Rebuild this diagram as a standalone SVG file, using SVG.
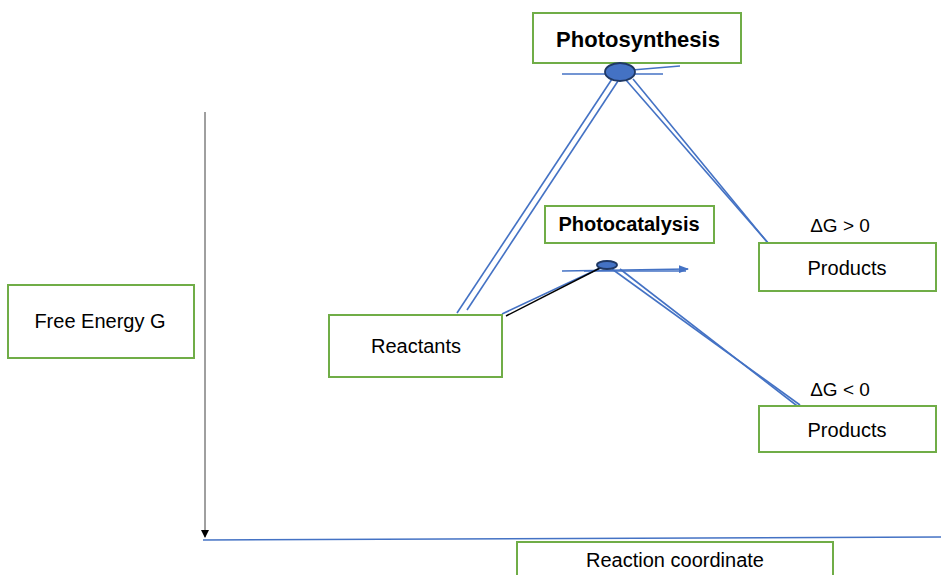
<svg xmlns="http://www.w3.org/2000/svg" width="941" height="575" viewBox="0 0 941 575">
<defs>
<style>
.box{fill:#fff;stroke:#70AD47;stroke-width:2}
.t{font-family:"Liberation Sans",Arial,sans-serif;font-size:20px;fill:#000;text-anchor:middle}
.b{font-weight:bold}
.big{font-size:22px}
.sm{font-size:19px}
.ln{stroke:#4472C4;stroke-width:1.6;fill:none}
.dot{fill:#4472C4;stroke:#1F3864;stroke-width:1.8}
</style>
<marker id="ab" markerWidth="8" markerHeight="8" refX="7" refY="4" orient="auto" markerUnits="userSpaceOnUse">
<path d="M0,0 L8,4 L0,8 Z" fill="#000"/>
</marker>
<marker id="ab2" markerWidth="10" markerHeight="8" refX="9" refY="4" orient="auto" markerUnits="userSpaceOnUse">
<path d="M0,0 L10,4 L0,8 Z" fill="#4472C4"/>
</marker>
</defs>
<rect width="941" height="575" fill="#fff"/>
<g id="connectors">
<line x1="205" y1="112" x2="205" y2="537" stroke="#404040" stroke-width="1" marker-end="url(#ab)"/>
<line x1="203" y1="540" x2="941" y2="537" class="ln" stroke-width="2"/>
<line x1="562" y1="74" x2="612" y2="74" class="ln"/>
<line x1="630" y1="74" x2="663" y2="74" class="ln"/>
<line x1="632" y1="70" x2="680" y2="66" class="ln"/>
<line x1="457" y1="313" x2="612" y2="79" class="ln"/>
<line x1="467" y1="310" x2="618" y2="81" class="ln"/>
<line x1="626" y1="80" x2="769" y2="244" class="ln"/>
<line x1="633" y1="79" x2="772" y2="248" class="ln"/>
<line x1="562" y1="271" x2="688" y2="269" class="ln" marker-end="url(#ab2)"/>
<line x1="584" y1="271" x2="686" y2="271" class="ln"/>
<line x1="502" y1="314" x2="600" y2="268" class="ln"/>
<line x1="506" y1="316" x2="604" y2="266" stroke="#000" stroke-width="1.5"/>
<line x1="612" y1="269" x2="800" y2="405" class="ln"/>
<line x1="620" y1="269" x2="805" y2="412" class="ln"/>
</g>
<g id="photosynthesis">
<rect x="533" y="13" width="208" height="50" class="box"/>
<text x="638" y="47" class="t b big">Photosynthesis</text>
</g>
<g id="ts1"><ellipse cx="620" cy="72" rx="15" ry="9" class="dot"/></g>
<g id="photocatalysis">
<rect x="545" y="206" width="169" height="37" class="box"/>
<text x="629" y="231" class="t b">Photocatalysis</text>
</g>
<g id="ts2"><ellipse cx="607" cy="265" rx="10" ry="4" class="dot"/></g>
<g id="reactants">
<rect x="329" y="315" width="173" height="62" class="box"/>
<text x="416" y="353" class="t">Reactants</text>
</g>
<g id="products1">
<text x="840" y="232" class="t sm">ΔG &gt; 0</text>
<rect x="759" y="243" width="177" height="48" class="box"/>
<text x="847" y="275" class="t">Products</text>
</g>
<g id="products2">
<text x="840" y="396" class="t sm">ΔG &lt; 0</text>
<rect x="759" y="406" width="177" height="46" class="box"/>
<text x="847" y="437" class="t">Products</text>
</g>
<g id="free-energy">
<rect x="8" y="285" width="186" height="73" class="box"/>
<text x="100" y="328" class="t">Free Energy G</text>
</g>
<g id="reaction-coordinate">
<rect x="517" y="542" width="316" height="40" class="box"/>
<text x="675" y="567" class="t">Reaction coordinate</text>
</g>
</svg>
